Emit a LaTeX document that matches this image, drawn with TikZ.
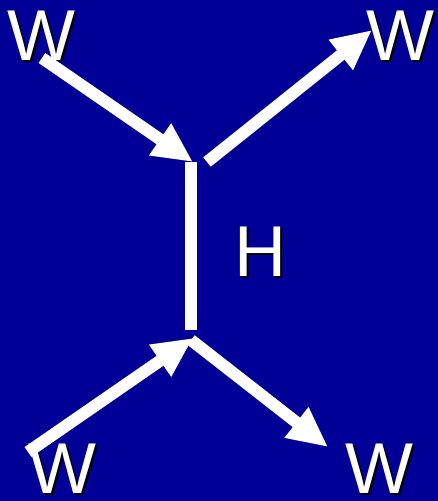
\documentclass[tikz,border=0pt]{standalone}
\usepackage{fontspec}
\setmainfont{Liberation Sans}
\usepackage{tikz}
\usetikzlibrary{arrows.meta,positioning}
\definecolor{deepblue}{RGB}{0,0,150}

\begin{document}
\begin{tikzpicture}[
  x=1pt,y=-1pt,
  lbl/.style={inner sep=0pt,text=white,font=\fontsize{72}{72}\selectfont},
  shade/.style={inner sep=0pt,text=black,font=\fontsize{72}{72}\selectfont},
  arrow/.style={-{Triangle[length=40pt,width=36pt]},line width=12pt,white},
  bar/.style={line width=12pt,white}
]
\fill[deepblue] (0,0) rectangle (438,501);
\useasboundingbox (0,0) rectangle (438,501);
% vertices
\coordinate (top) at (191,162);
\coordinate (bot) at (191,330);
\coordinate (topin) at (193,162);
\coordinate (botin) at (193,338);
% labels with shadow
\node[shade] (wtls) at (43,38) {W};
\node[lbl] (wtl) at (41,36) {W};
\node[shade] (wtrs) at (402,38) {W};
\node[lbl] (wtr) at (400,36) {W};
\node[shade] (wbls) at (64,471) {W};
\node[lbl] (wbl) at (62,469) {W};
\node[shade] (wbrs) at (381,471) {W};
\node[lbl] (wbr) at (379,469) {W};
\node[shade] (hs) at (262,254) {H};
\node[lbl] (h) at (260,252) {H};
% lines
\coordinate (a1) at (42,58);
\coordinate (a2) at (207,162);
\coordinate (a3) at (372,30);
\coordinate (a4) at (28,452);
\coordinate (a5) at (191,340);
\coordinate (a6) at (328,447);
\draw[arrow] (a1)--(topin);
\draw[arrow] (a2)--(a3);
\draw[bar] (top)--(bot);
\draw[arrow] (a4)--(botin);
\draw[arrow] (a5)--(a6);
\end{tikzpicture}
\end{document}
